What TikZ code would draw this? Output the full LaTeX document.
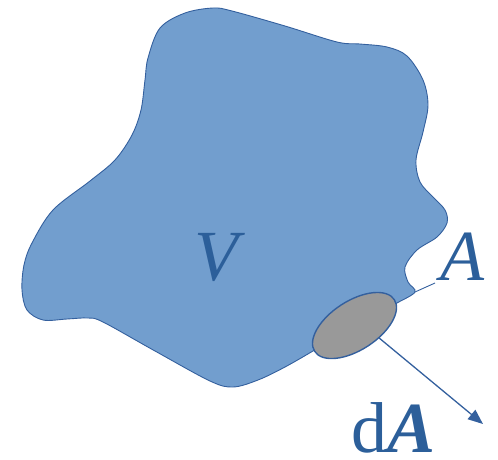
\documentclass[tikz,border=0pt]{standalone}
\usepackage{fontspec}
\setmainfont{Liberation Serif}
\usetikzlibrary{arrows.meta,shapes.geometric}
\definecolor{blobfill}{RGB}{114,158,206}
\definecolor{blobline}{RGB}{52,96,158}
\definecolor{txtblue}{RGB}{44,95,154}
\definecolor{patchgray}{RGB}{153,153,153}
\begin{document}
\begin{tikzpicture}[x=1pt,y=-1pt,
  lbl/.style={text=txtblue,font=\fontsize{72}{80}\selectfont,inner sep=0pt,anchor=base},
  edge/.style={draw=blobline,line width=1.3pt}]
\useasboundingbox (0,0) rectangle (498,459);
\fill[blobfill,draw=blobline,line width=0.9pt] plot[smooth cycle,tension=0.55] coordinates {
 (213,8) (232,11) (285,26) (337,42) (360,44) (387,47) (407,56) (423,80) (428,105)
 (423,132) (416,160) (420,182) (433,197) (445,210) (447,223) (437,237) (417,250)
 (405,267) (408,282) (415,292) (397,303) (385,310) (350,328) (318,348) (285,367)
 (258,380) (233,387) (210,381) (155,351) (103,322) (88,318) (67,319) (43,320)
 (27,310) (22,290) (24,265) (32,243) (53,210) (90,181) (115,160) (132,135)
 (141,110) (145,80) (148,58) (160,28) (185,13)};
\coordinate (edgeA) at (415,292);
\coordinate (tipA) at (435,283);
\draw[blobline,line width=0.9pt] (edgeA) -- (tipA);
\node[draw=blobline,fill=patchgray,line width=1.4pt,ellipse,minimum width=95pt,minimum height=49pt,inner sep=0pt,rotate=33] (patch) at (354.5,325.5) {};
\coordinate (arrowend) at (483,424);
\draw[edge,-{Triangle[length=15pt,width=12pt]}] (patch.-60) -- (arrowend);
\node[lbl] (V) at (216,280) {\itshape V};
\node[lbl] (A) at (462,280) {\itshape A};
\node[lbl] (dA) at (394,452) {d\textbf{\itshape A}};
\end{tikzpicture}
\end{document}
